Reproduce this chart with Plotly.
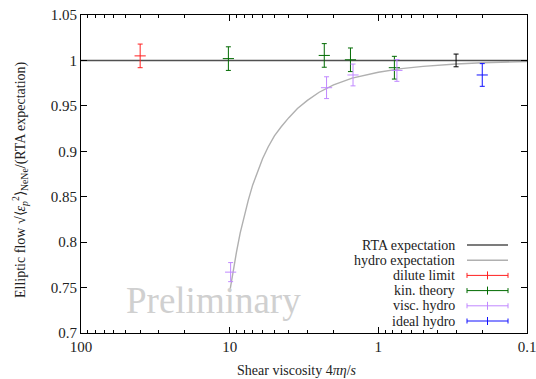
import plotly.graph_objects as go

# ---- data ----
dilute_eta = [40.0]
dilute_y = [1.005]
dilute_err = [0.013]

kin_eta = [10.2, 2.31, 1.54, 0.78]
kin_y = [1.002, 1.0055, 1.0007, 0.992]
kin_err = [0.013, 0.013, 0.013, 0.0125]

visc_eta = [9.85, 2.23, 1.48, 0.75]
visc_y = [0.767, 0.970, 0.984, 0.989]
visc_err = [0.0105, 0.012, 0.012, 0.012]

ideal_eta = [0.2]
ideal_y = [0.984]
ideal_err = [0.0125]

ref_eta = [0.3]
ref_y = [1.0]
ref_err = [0.007]

rta_eta = [100, 0.1]
rta_y = [1.0, 1.0]

hydro_eta = [10, 9.5, 9.0, 8.5, 8.0, 7.5, 7.0, 6.5, 6.0, 5.5, 5.0, 4.5, 4.0, 3.5, 3.0,
             2.5, 2.0, 1.5, 1.0, 0.7, 0.5, 0.3, 0.2, 0.1]
hydro_y = [0.745, 0.768, 0.789, 0.810, 0.829, 0.846, 0.863, 0.878, 0.892, 0.905, 0.917,
           0.927, 0.937, 0.947, 0.956, 0.965, 0.973, 0.9805, 0.987, 0.991, 0.9935,
           0.9961, 0.9974, 0.9987]

xtick_vals = [100, 10, 1, 0.1]
xtick_text = ["100", "10", "1", "0.1"]
ytick_vals = [0.7, 0.75, 0.8, 0.85, 0.9, 0.95, 1.0, 1.05]
ytick_text = ["0.7", "0.75", "0.8", "0.85", "0.9", "0.95", "1", "1.05"]

legend_labels = ["RTA expectation", "hydro expectation", "dilute limit",
                 "kin. theory", "visc. hydro", "ideal hydro"]

# ---- styles ----
C_RTA = "#505050"
C_HYDRO = "#b0b0b0"
C_RED = "#ff2020"
C_GREEN = "#006a00"
C_PURPLE = "#c088ff"
C_BLUE = "#1010ff"
FONT = "Liberation Serif"

W, H = 536, 379
L, R, T, B = 81, 9, 15, 46
pw, ph = W - L - R, H - T - B

fig = go.Figure()

fig.add_trace(go.Scatter(x=hydro_eta, y=hydro_y, mode="lines",
                         line=dict(color=C_HYDRO, width=1.4),
                         showlegend=False))
fig.add_trace(go.Scatter(x=rta_eta, y=rta_y, mode="lines",
                         line=dict(color=C_RTA, width=1.4), showlegend=False))


def pts(x, y, e, color, marker=True):
    fig.add_trace(go.Scatter(
        x=x, y=y, mode="markers",
        marker=dict(symbol="line-ew", size=8 if marker else 0.1,
                    color=color, line=dict(color=color, width=1)),
        error_y=dict(type="data", array=e, visible=True, color=color,
                     thickness=1, width=2.5),
        showlegend=False))


pts(dilute_eta, dilute_y, dilute_err, C_RED)
pts(kin_eta, kin_y, kin_err, C_GREEN)
pts(visc_eta, visc_y, visc_err, C_PURPLE)
pts(ideal_eta, ideal_y, ideal_err, C_BLUE)
pts(ref_eta, ref_y, ref_err, "black", marker=False)

# ---- custom legend (text left, sample right) ----
def px2x(px):
    return (px - L) / pw


def py2y(py):
    return (H - B - py) / ph


shapes = []
annotations = []
leg_colors = [C_RTA, C_HYDRO, C_RED, C_GREEN, C_PURPLE, C_BLUE]
row0, dy = 245.0, 15.2
x_text, x0s, x1s = 457, 467, 508
for i, (lab, col) in enumerate(zip(legend_labels, leg_colors)):
    yy = row0 + i * dy
    annotations.append(dict(x=px2x(x_text), y=py2y(yy), xref="paper", yref="paper",
                            text=lab, showarrow=False, xanchor="right", yanchor="middle",
                            font=dict(family=FONT, size=14, color="#222")))
    shapes.append(dict(type="line", xref="paper", yref="paper",
                       x0=px2x(x0s), x1=px2x(x1s), y0=py2y(yy), y1=py2y(yy),
                       line=dict(color=col, width=1.4 if i < 2 else 1)))
    if i >= 2:
        for xx, hh in [(x0s, 2.5), (x1s, 2.5), ((x0s + x1s) / 2, 4)]:
            shapes.append(dict(type="line", xref="paper", yref="paper",
                               x0=px2x(xx), x1=px2x(xx), y0=py2y(yy - hh), y1=py2y(yy + hh),
                               line=dict(color=col, width=1)))

annotations.append(dict(x=px2x(213), y=py2y(300), xref="paper", yref="paper",
                        text="Preliminary", showarrow=False,
                        xanchor="center", yanchor="middle",
                        font=dict(family=FONT, size=37, color="#d0d0d0")))

annotations.append(dict(x=px2x(297), y=py2y(370), xref="paper", yref="paper",
                        text="Shear viscosity 4<i>πη</i>/<i>s</i>", showarrow=False,
                        xanchor="center", yanchor="middle",
                        font=dict(family=FONT, size=14, color="#222")))
annotations.append(dict(x=px2x(20), y=py2y(180), xref="paper", yref="paper",
                        text="Elliptic flow √⟨<i>ε</i><sub><i>p</i></sub><sup>2</sup>⟩<sub>NeNe</sub>/(RTA expectation)",
                        textangle=-90, showarrow=False,
                        xanchor="center", yanchor="middle",
                        font=dict(family=FONT, size=14, color="#222")))

fig.update_layout(
    width=W, height=H,
    margin=dict(l=L, r=R, t=T, b=B, autoexpand=False),
    plot_bgcolor="white", paper_bgcolor="white",
    font=dict(family=FONT, size=15, color="#222"),
    shapes=shapes, annotations=annotations,
    showlegend=False,
    xaxis=dict(type="log", range=[2, -1], tickmode="array",
               tickvals=xtick_vals, ticktext=xtick_text, automargin=False,
               ticklabeloverflow="allow",
               ticks="inside", ticklen=6, tickcolor="black",
               minor=dict(tickmode="array",
                          tickvals=[m * d for d in [10, 1, 0.1] for m in range(2, 10)],
                          ticks="inside", ticklen=3, tickcolor="black", showgrid=False),
               showline=True, linecolor="black", linewidth=1, mirror="allticks",
               showgrid=False, zeroline=False),
    yaxis=dict(range=[0.7, 1.05], tickmode="array", tickvals=ytick_vals,
               ticktext=ytick_text, automargin=False, ticklabeloverflow="allow",
               ticks="inside", ticklen=6, tickcolor="black",
               showline=True, linecolor="black", linewidth=1, mirror="allticks",
               showgrid=False, zeroline=False),
)

fig.write_html("out.html")
